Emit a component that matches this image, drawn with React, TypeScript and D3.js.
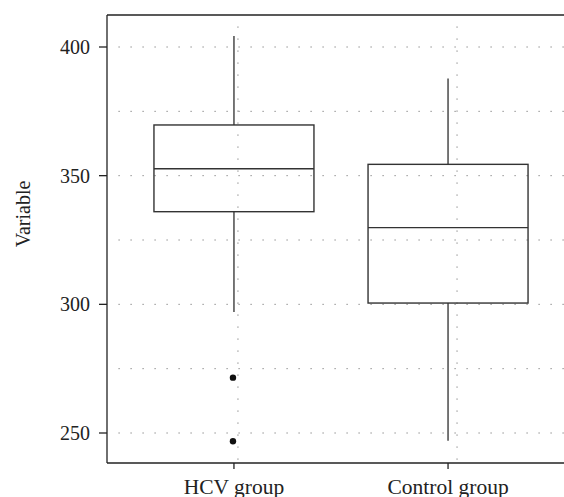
import React from "react";
import * as d3 from "d3";

// box-plot summaries
const groups = ["HCV group", "Control group"];
const lowerWhisker = [297, 247];
const q1 = [336, 300.5];
const median = [352.7, 329.8];
const q3 = [369.7, 354.4];
const upperWhisker = [404.3, 387.8];
const outliers = [[271.5, 246.8], []];

const yTicks = [250, 300, 350, 400];
const yGrid = [250, 275, 300, 325, 350, 375, 400];
// the vertical dotted lines sit a bit right of the tick marks in the original
const xGridShift = [4, 9];

const W = 564;
const H = 497;
const left = 107;
const right = 575;
const top = 15;
const bottom = 463;

export default function App() {
  const x = d3.scalePoint<string>().domain(groups).range([left, right]).padding(0.593);
  const y = d3.scaleLinear().domain([250, 400]).range([433, 47]);
  const boxW = 160;
  const font = "'Liberation Serif', 'Times New Roman', serif";
  const grid = "#777";

  return (
    <svg width={W} height={H} style={{ position: "absolute", left: 0, top: 0 }}>
      <rect width={W} height={H} fill="#fff" />
      {yGrid.map((v) => (
        <line key={"gy" + v} x1={left + 11.5} x2={right} y1={y(v)} y2={y(v)}
          stroke={grid} strokeWidth={1} strokeDasharray="1.2,10.8" />
      ))}
      {groups.map((g, i) => (
        <line key={"gx" + g} x1={x(g)! + xGridShift[i]} x2={x(g)! + xGridShift[i]} y1={top + 11.5} y2={bottom}
          stroke={grid} strokeWidth={1} strokeDasharray="1.2,10.8" />
      ))}
      {groups.map((g, i) => {
        const cx = x(g)!;
        return (
          <g key={g}>
            <line x1={cx} x2={cx} y1={y(upperWhisker[i])} y2={y(q3[i])} stroke="#555" strokeWidth={1.6} />
            <line x1={cx} x2={cx} y1={y(q1[i])} y2={y(lowerWhisker[i])} stroke="#555" strokeWidth={1.6} />
            <rect x={cx - boxW / 2} y={y(q3[i])} width={boxW} height={y(q1[i]) - y(q3[i])}
              fill="none" stroke="#333" strokeWidth={1.4} />
            <line x1={cx - boxW / 2} x2={cx + boxW / 2} y1={y(median[i])} y2={y(median[i])}
              stroke="#333" strokeWidth={1.4} />
            {outliers[i].map((o, j) => (
              <circle key={j} cx={cx - 1} cy={y(o)} r={3.2} fill="#111" />
            ))}
          </g>
        );
      })}
      {/* frame */}
      <line x1={left} x2={left} y1={top} y2={bottom} stroke="#222" strokeWidth={1.3} />
      <line x1={left} x2={W + 10} y1={top} y2={top} stroke="#222" strokeWidth={1.3} />
      <line x1={left} x2={W + 10} y1={bottom} y2={bottom} stroke="#222" strokeWidth={1.3} />
      {/* y axis */}
      {yTicks.map((t) => (
        <g key={"yt" + t}>
          <line x1={left - 8} x2={left} y1={y(t)} y2={y(t)} stroke="#222" strokeWidth={1.3} />
          <text x={left - 17} y={y(t)} dy="0.35em" textAnchor="end" fontFamily={font} fontSize={20} fill="#222">
            {t}
          </text>
        </g>
      ))}
      <text transform={`translate(30,214) rotate(-90)`} textAnchor="middle" fontFamily={font} fontSize={20} fill="#222">
        Variable
      </text>
      {/* x axis */}
      {groups.map((g) => (
        <g key={"xt" + g}>
          <line x1={x(g)!} x2={x(g)!} y1={bottom} y2={bottom + 6} stroke="#222" strokeWidth={1.3} />
          <text x={x(g)!} y={494} textAnchor="middle" fontFamily={font} fontSize={21.5} fill="#222">
            {g}
          </text>
        </g>
      ))}
    </svg>
  );
}
